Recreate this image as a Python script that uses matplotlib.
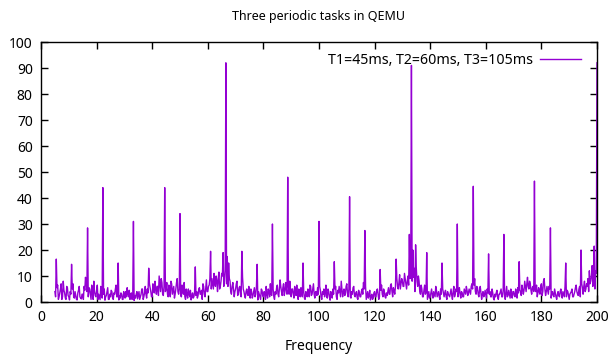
import numpy as np
import matplotlib
matplotlib.use("Agg")
import matplotlib.pyplot as plt

plt.rcParams['font.family'] = ['Noto Sans', 'DejaVu Sans']

# frequency grid of the spectrum
f_start = 5.0
f_step = 0.25

# background level at 5.0, 5.5, ... 200.0
noise_a = [
    4.0, 3.0, 6.5, 2.0, 5.0, 1.0, 8.0, 3.5, 1.0, 5.5, 2.0, 4.0, 3.0, 7.0, 1.5, 2.5, 0.8, 4.5, 2.0, 1.2,
    3.0, 6.0, 9.5, 4.0, 2.0, 5.0, 1.0, 3.5, 8.0, 2.5, 4.5, 1.0, 2.0, 6.0, 1.5, 3.0, 0.7, 2.5, 5.5, 1.0,
    2.0, 4.0, 1.0, 3.0, 6.5, 2.0, 0.8, 1.5, 3.0, 1.0, 2.5, 4.0, 5.5, 2.0, 1.0, 3.5, 2.0, 0.6, 1.5, 4.0,
    2.5, 1.0, 3.0, 5.0, 2.0, 6.0, 1.5, 3.5, 7.0, 4.0, 2.0, 5.5, 8.0, 3.0, 6.0, 10.0, 4.0, 7.5, 2.5, 9.0,
    5.0, 3.0, 6.5, 2.0, 7.0, 4.5, 1.5, 5.0, 9.0, 3.0, 6.0, 2.0, 4.0, 7.5, 1.0, 3.0, 5.0, 2.0, 0.8, 3.5,
    2.0, 1.0, 4.0, 2.5, 5.5, 3.0, 1.0, 6.0, 2.0, 8.5, 4.0, 6.5, 3.0, 9.0, 5.0, 7.0, 10.0, 4.0, 11.5, 6.0,
    7.0, 9.0, 8.0, 6.0, 10.0, 5.0, 8.0, 3.0, 7.5, 2.0, 5.0, 8.0, 3.5, 6.0, 2.0, 9.5, 4.0, 1.5, 5.0, 2.5,
    3.0, 5.0, 1.5, 4.0, 2.0, 6.0, 0.8, 3.0, 1.0, 4.5, 2.0, 3.5, 6.0, 1.5, 4.0, 7.0, 2.5, 5.0, 1.0, 3.0,
    6.5, 2.0, 8.5, 4.0, 5.5, 2.5, 7.5, 3.0, 6.0, 8.0, 2.0, 5.0, 1.5, 4.0, 6.5, 1.0, 3.0, 5.5, 2.0, 4.0,
    1.0, 3.5, 5.0, 2.0, 6.0, 3.0, 7.0, 1.5, 4.0, 5.5, 2.0, 4.5, 1.0, 3.0, 2.0, 6.5, 1.5, 4.0, 0.7, 3.0,
    5.0, 2.5, 6.0, 1.0, 3.5, 4.0, 8.0, 2.0, 5.0, 3.0, 7.0, 2.0, 4.5, 1.5, 3.0, 6.0, 2.0, 4.0, 1.0, 3.5,
    2.0, 5.0, 7.5, 3.0, 1.0, 4.0, 2.5, 0.8, 3.0, 1.5, 4.0, 2.0, 5.0, 1.0, 3.0, 6.5, 2.0, 4.0, 1.5, 2.5,
    5.5, 3.0, 7.0, 2.0, 4.5, 6.0, 9.0, 5.0, 10.5, 7.0, 8.0, 6.0, 9.0, 5.0, 10.0, 7.0, 12.0, 8.0, 9.5, 4.0,
    13.0, 6.0, 8.0, 3.0, 5.0, 2.0, 6.5, 3.5, 1.0, 4.0, 2.0, 5.0, 1.5, 3.0, 6.0, 2.0, 4.0, 1.0, 3.0, 5.0,
    2.0, 4.5, 1.0, 3.0, 2.0, 5.0, 1.0, 6.0, 3.0, 4.0, 2.0, 5.5, 1.5, 3.5, 2.0, 4.0, 6.0, 2.5, 5.0, 3.0,
    7.0, 4.0, 9.0, 3.0, 5.5, 2.0, 6.0, 1.0, 4.0, 2.5, 3.0, 5.0, 1.5, 4.0, 2.0, 3.5, 0.8, 2.0, 4.5, 1.0,
    3.0, 5.0, 2.0, 4.0, 1.0, 6.0, 2.5, 3.0, 5.0, 1.5, 4.0, 2.0, 3.0, 5.5, 2.0, 4.0, 6.5, 3.0, 8.0, 4.0,
    9.5, 5.0, 7.0, 3.0, 6.0, 8.0, 4.0, 2.0, 5.5, 3.0, 7.0, 4.0, 9.0, 2.5, 6.0, 3.0, 5.0, 1.5, 4.0, 2.0,
    3.5, 1.0, 4.0, 2.0, 5.0, 1.5, 3.0, 6.0, 2.0, 4.0, 1.0, 3.5, 5.0, 2.0, 4.0, 6.5, 3.0, 5.0, 2.0, 7.0,
    3.0, 8.0, 5.0, 6.0, 4.0, 7.0, 10.0, 6.0, 21.5, 12.0, 8.0,
]

# background level at 5.25, 5.75, ... 199.75
noise_b = [
    2.0, 5.5, 1.0, 3.5, 7.0, 2.0, 4.5, 1.5, 6.0, 2.5, 0.8, 3.0, 5.0, 2.0, 4.0, 1.0, 3.5, 6.0, 1.5, 3.0,
    1.0, 4.5, 7.5, 2.0, 5.5, 3.0, 6.5, 1.0, 4.0, 2.0, 6.5, 3.0, 0.9, 4.5, 2.5, 5.0, 2.0, 4.0, 1.0, 3.0,
    4.5, 1.5, 3.5, 5.0, 2.0, 4.0, 2.5, 3.5, 1.0, 4.0, 1.5, 2.0, 3.0, 4.5, 2.5, 1.0, 4.0, 2.5, 3.0, 1.2,
    4.0, 2.0, 5.0, 1.0, 3.5, 3.0, 5.0, 2.0, 5.5, 2.0, 7.0, 3.5, 5.0, 6.0, 2.5, 7.0, 9.0, 3.0, 6.0, 4.0,
    7.5, 2.0, 4.5, 8.0, 3.0, 6.0, 3.0, 7.5, 4.0, 5.0, 2.5, 6.5, 3.0, 2.0, 5.0, 1.5, 3.0, 4.5, 2.0, 1.5,
    4.0, 2.5, 1.5, 5.0, 3.0, 4.5, 7.0, 3.0, 5.5, 4.0, 6.0, 9.0, 5.0, 7.0, 11.0, 6.0, 8.0, 9.0, 5.0, 8.0,
    10.0, 6.0, 12.0, 7.0, 6.0, 9.0, 4.0, 6.0, 5.0, 4.0, 7.0, 2.5, 5.5, 3.0, 7.0, 5.0, 2.5, 4.0, 3.0, 6.0,
    1.5, 4.0, 2.5, 5.5, 3.0, 1.0, 4.0, 2.0, 5.0, 2.5, 4.0, 1.0, 3.0, 5.0, 2.0, 3.0, 4.5, 2.0, 4.0, 5.5,
    3.0, 5.0, 6.0, 2.5, 7.0, 4.0, 5.0, 6.0, 3.0, 4.5, 5.0, 3.0, 6.0, 2.5, 3.0, 5.0, 2.0, 4.0, 3.5, 1.5,
    4.0, 2.0, 3.0, 6.5, 2.5, 5.0, 3.0, 4.0, 2.5, 3.0, 6.0, 2.0, 4.0, 5.0, 3.5, 2.0, 5.0, 2.0, 4.0, 1.5,
    3.0, 5.0, 2.0, 4.5, 6.0, 2.0, 5.0, 4.0, 2.5, 6.0, 3.5, 5.0, 2.0, 4.0, 5.5, 2.5, 3.5, 1.5, 4.5, 2.0,
    4.0, 3.0, 5.0, 6.0, 2.5, 1.5, 4.5, 2.0, 1.0, 3.5, 2.0, 4.5, 3.0, 2.0, 4.5, 3.0, 5.0, 2.0, 3.5, 4.0,
    3.0, 6.5, 4.0, 5.5, 3.0, 8.0, 6.0, 7.5, 5.0, 9.0, 6.0, 11.0, 7.0, 8.0, 6.5, 9.0, 6.0, 10.0, 5.0, 7.5,
    8.0, 10.0, 4.0, 6.5, 2.0, 4.5, 3.0, 5.0, 2.5, 1.5, 3.5, 2.5, 4.0, 2.0, 4.5, 3.0, 2.0, 5.0, 2.0, 3.5,
    3.5, 2.0, 4.0, 2.5, 3.5, 2.5, 4.0, 2.0, 5.0, 2.5, 4.0, 3.0, 4.0, 2.0, 5.0, 3.0, 4.5, 3.5, 4.0, 6.0,
    5.0, 6.5, 4.0, 6.0, 3.0, 4.5, 3.5, 3.0, 2.0, 4.5, 1.5, 3.5, 3.0, 2.0, 5.0, 1.5, 3.0, 3.5, 2.0, 3.0,
    4.0, 2.0, 4.5, 3.0, 3.5, 2.0, 4.5, 1.5, 3.0, 4.0, 2.5, 5.0, 1.5, 3.5, 4.5, 2.5, 5.0, 4.5, 6.0, 7.0,
    6.0, 8.0, 4.5, 5.5, 4.0, 5.0, 6.5, 3.5, 4.0, 6.0, 2.5, 8.0, 5.0, 4.0, 4.5, 6.0, 2.5, 3.5, 2.5, 5.0,
    2.0, 3.0, 2.5, 4.0, 3.0, 4.0, 2.0, 3.5, 4.5, 2.5, 3.0, 4.0, 2.0, 3.0, 5.5, 4.0, 2.5, 6.0, 4.0, 5.5,
    6.0, 4.0, 7.0, 9.0, 12.0, 8.0, 14.0, 9.0, 5.0, 11.0,
]

# harmonic peaks (frequency, amplitude)
peak_freq = [5.55, 11.1, 16.65, 22.2, 27.75, 33.3, 38.85, 44.4, 49.95, 55.5,
             61.05, 66.6, 72.15, 77.7, 83.25, 88.8, 94.35, 99.9, 105.45, 111.0,
             116.55, 122.1, 127.65, 133.2, 138.75, 144.3, 149.85, 155.4, 160.95, 166.5,
             172.05, 177.6, 183.15, 188.7, 194.25, 200.0]
peak_amp = [16.5, 14.5, 28.5, 44.0, 15.0, 31.0, 13.0, 44.0, 34.0, 13.5,
            19.5, 92.0, 19.5, 14.5, 30.0, 48.0, 15.0, 31.0, 15.5, 40.5,
            27.5, 12.5, 16.5, 91.0, 19.0, 15.0, 30.0, 44.5, 18.5, 26.0,
            15.5, 46.5, 28.5, 15.0, 20.0, 92.0]

# side lobes next to the two strongest peaks
side_freq = [65.0, 65.5, 67.0, 67.5, 132.5, 133.75, 134.25, 134.75]
side_amp = [11.0, 19.0, 17.5, 15.0, 26.0, 20.0, 13.0, 22.0]

amp = np.empty(len(noise_a) + len(noise_b))
amp[0::2] = noise_a
amp[1::2] = noise_b
freq = f_start + f_step * np.arange(len(amp))
for f, a in zip(side_freq + peak_freq, side_amp + peak_amp):
    i = int(round((f - f_start) / f_step))
    if 0 <= i < len(amp):
        amp[i] = a

fig = plt.figure(figsize=(6.11, 3.62), dpi=100)
ax = fig.add_axes([41 / 611, 1 - 302 / 362, 556 / 611, 260 / 362])

ax.plot(freq, amp, color='#9400d3', lw=1, label='T1=45ms, T2=60ms, T3=105ms')

ax.set_xlim(0, 200)
ax.set_ylim(0, 100)
ax.set_xticks(range(0, 201, 20))
ax.set_yticks(range(0, 101, 10))
ax.tick_params(direction='in', top=True, right=True, length=5, width=1,
               labelsize=10, pad=6)
for s in ax.spines.values():
    s.set_linewidth(1)

ax.set_title('Three periodic tasks in QEMU', fontsize=9, pad=16)
ax.set_xlabel('Frequency', fontsize=10, labelpad=10)

ax.legend(loc='upper right', bbox_to_anchor=(581 / 611, 1 - 53 / 362),
          bbox_transform=fig.transFigure, frameon=False, markerfirst=False,
          handlelength=2.9, handletextpad=0.5, borderpad=0, borderaxespad=0,
          prop={'size': 10.2})

fig.savefig('out.png', dpi=100)
